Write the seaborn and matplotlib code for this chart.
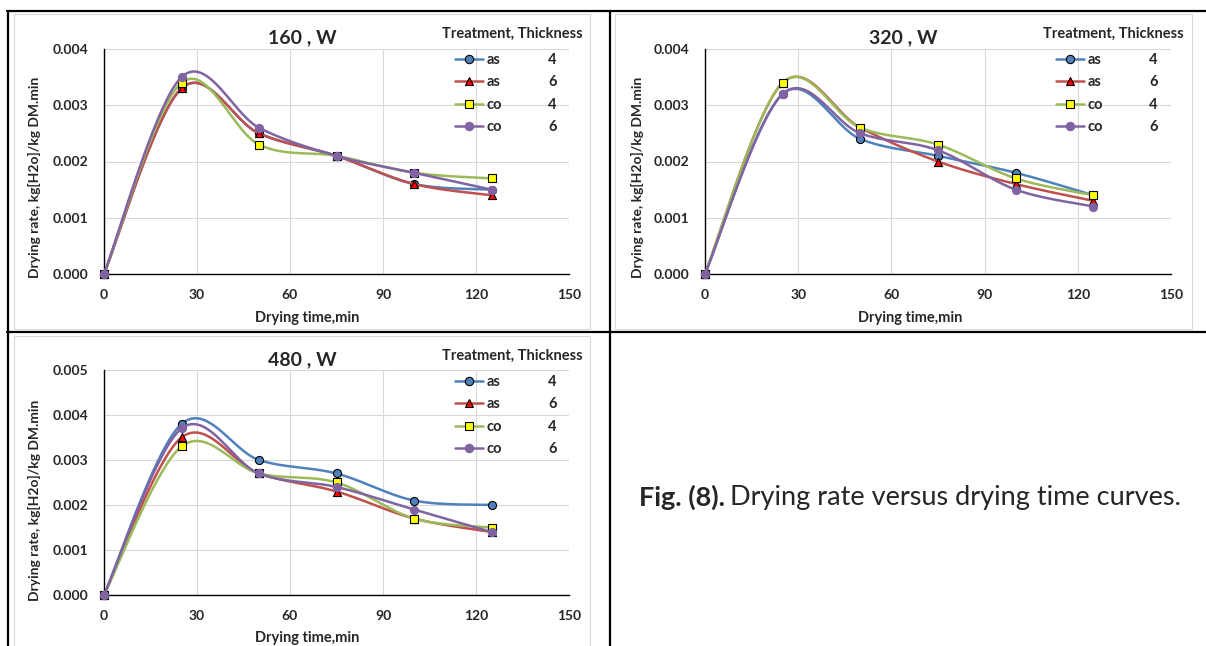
import numpy as np
import pandas as pd
import matplotlib
matplotlib.use("Agg")
import matplotlib.pyplot as plt
import seaborn as sns
from matplotlib.lines import Line2D
from matplotlib.patches import Rectangle
from matplotlib.ticker import MultipleLocator, FormatStrFormatter

# drying time, min
time = [0, 25, 50, 75, 100, 125]

# drying rate, kg[H2o]/kg DM.min
w160_as4 = [0, 0.0033, 0.0025, 0.0021, 0.0016, 0.0015]
w160_as6 = [0, 0.0033, 0.0025, 0.0021, 0.0016, 0.0014]
w160_co4 = [0, 0.0034, 0.0023, 0.0021, 0.0018, 0.0017]
w160_co6 = [0, 0.0035, 0.0026, 0.0021, 0.0018, 0.0015]

w320_as4 = [0, 0.0032, 0.0024, 0.0021, 0.0018, 0.0014]
w320_as6 = [0, 0.0034, 0.0026, 0.0020, 0.0016, 0.0013]
w320_co4 = [0, 0.0034, 0.0026, 0.0023, 0.0017, 0.0014]
w320_co6 = [0, 0.0032, 0.0025, 0.0022, 0.0015, 0.0012]

w480_as4 = [0, 0.0038, 0.0030, 0.0027, 0.0021, 0.0020]
w480_as6 = [0, 0.0035, 0.0027, 0.0023, 0.0017, 0.0014]
w480_co4 = [0, 0.0033, 0.0027, 0.0025, 0.0017, 0.0015]
w480_co6 = [0, 0.0037, 0.0027, 0.0024, 0.0019, 0.0014]

series_names = ["as 4", "as 6", "co 4", "co 6"]
treatments = ["as", "as", "co", "co"]
thickness = ["4", "6", "4", "6"]
panel_titles = ["160 , W", "320 , W", "480 , W"]
panel_ymax = [0.004, 0.004, 0.005]

line_colors = ["#4F81BD", "#C0504D", "#9BBB59", "#8064A2"]
marker_shapes = ["o", "^", "s", "o"]
marker_faces = ["#4F81BD", "#FF0000", "#FFFF00", "#8064A2"]
marker_edges = ["black", "black", "black", "#8064A2"]

panels = [
    [w160_as4, w160_as6, w160_co4, w160_co6],
    [w320_as4, w320_as6, w320_co4, w320_co6],
    [w480_as4, w480_as6, w480_co4, w480_co6],
]


def smooth(xs, ys, n=40):
    # excel style smoothed line (bezier, control = P1 + (P2-P0)/6)
    p = np.column_stack([xs, ys]).astype(float)
    ext = np.vstack([p[0], p, p[-1]])
    out = [p[:1]]
    t = np.linspace(0, 1, n)[1:, None]
    for i in range(1, len(ext) - 2):
        p0, p1, p2, p3 = ext[i - 1], ext[i], ext[i + 1], ext[i + 2]
        c1 = p1 + (p2 - p0) / 6
        c2 = p2 - (p3 - p1) / 6
        seg = ((1 - t) ** 3) * p1 + 3 * ((1 - t) ** 2) * t * c1 + 3 * (1 - t) * t ** 2 * c2 + t ** 3 * p2
        out.append(seg)
    pts = np.vstack(out)
    return pts[:, 0], pts[:, 1]


sns.set_style("white")
plt.rcParams["font.family"] = ["Lato", "DejaVu Sans"]
plt.rcParams["font.weight"] = "bold"

W, H = 1206, 646
fig = plt.figure(figsize=(W / 100, H / 100), dpi=100)


def fx(x):
    return x / W


def fy(y):
    return 1 - y / H


# table frame of the page
for x0, y0, x1, y1 in [(7, 11, 1206, 11), (8, 11, 8, 646), (610, 11, 610, 646), (7, 332, 1206, 332)]:
    fig.add_artist(Line2D([fx(x0), fx(x1)], [fy(y0), fy(y1)], color="black", lw=1.6))

# chart area borders
for x0, y0, x1, y1 in [(14, 14, 590, 329), (615, 14, 1192, 329), (14, 336, 590, 652)]:
    fig.add_artist(Rectangle((fx(x0), fy(y1)), fx(x1) - fx(x0), fy(y0) - fy(y1),
                             fill=False, ec="#D9D9D9", lw=0.8))

# plot area boxes in px: left, top, right, bottom
boxes = [(104, 49, 569, 274), (705, 49, 1171, 274), (104, 370, 569, 595)]
legends = []

for k, (box, data) in enumerate(zip(boxes, panels)):
    l, t, r, b = box
    ax = fig.add_axes([fx(l), fy(b), fx(r) - fx(l), fy(t) - fy(b)])

    rows = []
    for name, ys in zip(series_names, data):
        sx, sy = smooth(time, ys)
        rows.append(pd.DataFrame({"time": sx, "rate": sy, "series": name}))
    curves = pd.concat(rows, ignore_index=True)

    for i, name in enumerate(series_names):
        sub = curves[curves["series"] == name]
        sns.lineplot(data=sub, x="time", y="rate", color=line_colors[i], lw=1.8,
                     sort=False, estimator=None, legend=False, ax=ax, zorder=3 + i)
        sns.scatterplot(x=time, y=data[i], marker=marker_shapes[i], color=marker_faces[i],
                        edgecolor=marker_edges[i], linewidth=0.8, s=34, ax=ax,
                        zorder=3.5 + i, legend=False, clip_on=False)

    ymax = panel_ymax[k]
    ax.set_xlim(0, 150)
    ax.set_ylim(0, ymax)
    ax.xaxis.set_major_locator(MultipleLocator(30))
    ax.xaxis.set_minor_locator(MultipleLocator(5))
    ax.yaxis.set_major_locator(MultipleLocator(0.001))
    ax.yaxis.set_minor_locator(MultipleLocator(0.0002))
    ax.yaxis.set_major_formatter(FormatStrFormatter("%.3f"))
    ax.grid(True, which="major", color="#D9D9D9", lw=0.8)
    ax.set_axisbelow(True)
    for s in ["top", "right"]:
        ax.spines[s].set_visible(False)
    for s in ["left", "bottom"]:
        ax.spines[s].set_color("black")
        ax.spines[s].set_linewidth(1.0)
        ax.spines[s].set_zorder(2.5)
    ax.tick_params(which="major", direction="inout", length=7, width=1.0, pad=7.5,
                   labelsize=10, color="black")
    ax.tick_params(which="minor", direction="in", length=3.5, width=1.0, color="black")
    ax.set_xlabel("")
    ax.set_ylabel("")

    ycen = 177 if k < 2 else 500
    xlab_y = 318 if k < 2 else 638
    left_edge = 34 if k != 1 else 637
    cx = 302 if k != 1 else 903
    title_y = 38 if k < 2 else 360
    fig.text(fx(left_edge), fy(ycen), "Drying rate, kg[H2o]/kg DM.min", rotation=90,
             ha="center", va="center", fontsize=10)
    fig.text(fx(307 if k != 1 else 910), fy(xlab_y), "Drying time,min",
             ha="center", va="center", fontsize=10.5)
    fig.text(fx(cx), fy(title_y), panel_titles[k], ha="center", va="center", fontsize=14)

    # legend: treatment column, thickness written next to each row
    ox = 0 if k != 1 else 601
    fig.text(fx(583 + ox), fy(34 if k < 2 else 356), "Treatment, Thickness",
             ha="right", va="center", fontsize=10.5)
    handles = []
    for i in range(4):
        handles.append(Line2D([0], [0], color=line_colors[i], lw=1.8, marker=marker_shapes[i],
                              mfc=marker_faces[i], mec=marker_edges[i], mew=0.8, ms=6))
    leg_top = 53 if k < 2 else 375
    leg = ax.legend(handles, treatments, frameon=False,
                    loc="upper left", bbox_to_anchor=(fx(455 + ox), fy(leg_top)),
                    bbox_transform=fig.transFigure, borderpad=0, borderaxespad=0,
                    handlelength=1.95, handletextpad=0.2,
                    labelspacing=0.58, prop={"weight": "bold", "size": 10.5})
    legends.append((leg, ox))

fig.canvas.draw()
for leg, ox in legends:
    for txt, num in zip(leg.get_texts(), thickness):
        bb = txt.get_window_extent()
        fig.text(fx(548 + ox), (bb.y0 + bb.y1) / 2 / H, num, ha="left", va="center",
                 fontsize=10.5)

cap1 = fig.text(fx(639), fy(497), "Fig. (8).", ha="left", va="center", fontsize=19.5)
fig.canvas.draw()
bb = cap1.get_window_extent()
fig.text(bb.x1 / W + fx(5), fy(497), "Drying rate versus drying time curves.",
         ha="left", va="center", fontsize=19.5, fontweight="normal")

fig.savefig("out.png", dpi=100)
